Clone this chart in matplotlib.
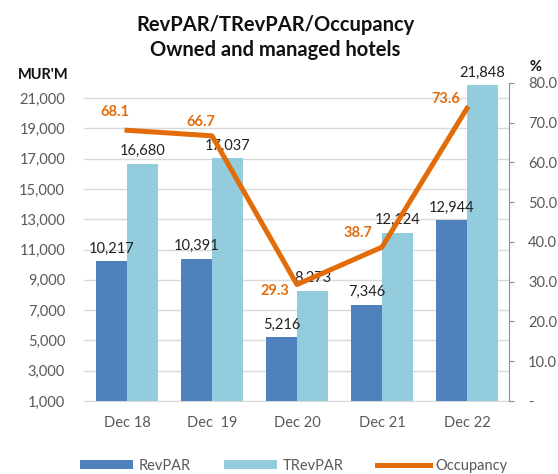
import matplotlib
matplotlib.use("Agg")
import matplotlib.pyplot as plt
import numpy as np

plt.rcParams['font.family'] = ['Lato', 'DejaVu Sans']

categories = ["Dec 18", "Dec  19", "Dec 20", "Dec 21", "Dec 22"]
revpar = [10217, 10391, 5216, 7346, 12944]
trevpar = [16680, 17037, 8273, 12124, 21848]
occupancy = [68.1, 66.7, 29.3, 38.7, 73.6]
left_ticks = list(range(1000, 21001, 2000))
right_ticks = list(range(0, 81, 10))
# label offsets (points) for occupancy labels
occ_offsets = [(-8.6, 13), (-8, 10), (-16, -5), (-17, 10), (-15, 7)]

c_rev = "#4F81BD"
c_trev = "#93CDDD"
c_occ = "#E36C0A"
gray = "#595959"

fig = plt.figure(figsize=(5.58, 4.74), dpi=100)
ax = fig.add_axes([0.1514, 0.154, 0.7616, 0.671])
x = np.arange(len(categories))
w = 0.365
b1 = ax.bar(x - w/2, revpar, w, color=c_rev, label="RevPAR", zorder=3)
b2 = ax.bar(x + w/2, trevpar, w, color=c_trev, label="TRevPAR", zorder=3)
ax.set_ylim(1000, 22000)
ax.set_xlim(-0.5, len(categories) - 0.5)
ax.set_yticks(left_ticks)
ax.set_yticklabels([f"{v:,}" for v in left_ticks], fontsize=10.5, color=gray)
ax.set_xticks(x)
ax.set_xticklabels(categories, fontsize=10.5, color=gray)
ax.tick_params(axis='y', length=0, pad=14)
ax.tick_params(axis='x', length=0, pad=11)
ax.grid(axis='y', color="#D9D9D9", linewidth=1, zorder=0)
for s in ["top", "right", "left"]:
    ax.spines[s].set_visible(False)
ax.spines["bottom"].set_color("#D9D9D9")

for xi, v in zip(x, revpar):
    ax.annotate(f"{v:,}", (xi - w/2, v), xytext=(0, 4), textcoords="offset points",
                ha="center", va="bottom", fontsize=10.5, color="#222222", zorder=6)
for xi, v in zip(x, trevpar):
    ax.annotate(f"{v:,}", (xi + w/2, v), xytext=(0, 4), textcoords="offset points",
                ha="center", va="bottom", fontsize=10.5, color="#222222", zorder=6)

ax2 = ax.twinx()
ln, = ax2.plot(x, occupancy, color=c_occ, linewidth=3.6, label="Occupancy", zorder=5)
ax2.set_ylim(0, 80)
ax2.set_yticks(right_ticks)
ax2.set_yticklabels(["-"] + [f"{v:.1f}" for v in right_ticks[1:]], fontsize=10.5, color=gray)
for s in ["top", "left", "bottom"]:
    ax2.spines[s].set_visible(False)
ax2.spines["right"].set_color("#8C8C8C")
ax2.tick_params(axis='y', length=3.5, color="#8C8C8C", pad=10)
for xi, v, off in zip(x, occupancy, occ_offsets):
    ax2.annotate(f"{v:.1f}", (xi, v), xytext=off, textcoords="offset points",
                 ha="center", va="center", fontsize=10.5, color=c_occ, fontweight="bold")

fig.text(0.493, 0.947, "RevPAR/TRevPAR/Occupancy", ha="center", va="center",
         fontsize=14.5, fontweight="bold", color="#111111")
fig.text(0.493, 0.894, "Owned and managed hotels", ha="center", va="center",
         fontsize=14.5, fontweight="bold", color="#111111")
fig.text(0.077, 0.842, "MUR'M", ha="center", va="center", fontsize=10.5,
         fontweight="bold", color="#111111")
fig.text(0.959, 0.859, "%", ha="center", va="center", fontsize=10.5,
         fontweight="bold", color="#111111")

fig.legend([b1, b2, ln], ["RevPAR", "TRevPAR", "Occupancy"], loc="center",
           bbox_to_anchor=(0.527, 0.017), ncol=3, frameon=False, fontsize=10.5,
           handlelength=3.6, handleheight=0.6, handletextpad=0.4, columnspacing=2.3,
           labelcolor=gray, borderpad=0)

fig.savefig("out.png", dpi=100)
